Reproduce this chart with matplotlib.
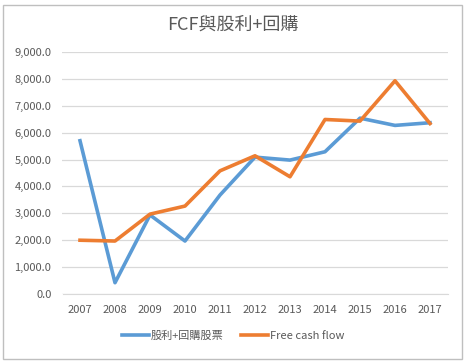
import matplotlib.pyplot as plt
from matplotlib.patches import Rectangle
from matplotlib.ticker import FuncFormatter

plt.rcParams['font.family'] = ['Noto Sans CJK TC', 'DejaVu Sans']

years = ['2007', '2008', '2009', '2010', '2011', '2012', '2013', '2014', '2015', '2016', '2017']
payout = [5700, 420, 2940, 1970, 3680, 5090, 4980, 5290, 6540, 6270, 6370]
fcf = [2000, 1970, 2970, 3270, 4580, 5140, 4360, 6490, 6430, 7930, 6340]

fig = plt.figure(figsize=(4.66, 3.64), dpi=100)
ax = fig.add_axes([62.5/466, 1 - 294/364, 385/466, 242/364])

x = range(len(years))
ax.plot(x, payout, color='#5B9BD5', lw=2.6, label='股利+回購股票', solid_joinstyle='round')
ax.plot(x, fcf, color='#ED7D31', lw=2.6, label='Free cash flow', solid_joinstyle='round')

ax.set_xlim(-0.5, len(years) - 0.5)
ax.set_ylim(0, 9000)
ax.set_yticks(range(0, 9001, 1000))
ax.yaxis.set_major_formatter(FuncFormatter(lambda v, p: f'{v:,.1f}'))
ax.set_xticks(list(x))
ax.set_xticklabels(years)
ax.grid(axis='y', color='#D9D9D9', lw=0.9)
ax.set_axisbelow(True)
for s in ['top', 'right', 'left']:
    ax.spines[s].set_visible(False)
ax.spines['bottom'].set_color('#D9D9D9')
ax.tick_params(length=0, colors='#595959', labelsize=8)
ax.tick_params(axis='x', pad=8)
ax.tick_params(axis='y', pad=8)

fig.text(0.5, 1 - 25/364, 'FCF與股利+回購', ha='center', va='center', fontsize=13, color='#595959')
leg = fig.legend(loc='center', bbox_to_anchor=(0.5, 1 - 336/364), ncol=2, frameon=False,
                 fontsize=8, handlelength=2.5, columnspacing=1.5, handletextpad=0.15)
for t in leg.get_texts():
    t.set_color('#595959')

fig.patches.append(Rectangle((3/466, 5/364), 459/466, 354/364, transform=fig.transFigure,
                             fill=False, edgecolor='#BFBFBF', lw=1))

fig.savefig('out.png', dpi=100)
